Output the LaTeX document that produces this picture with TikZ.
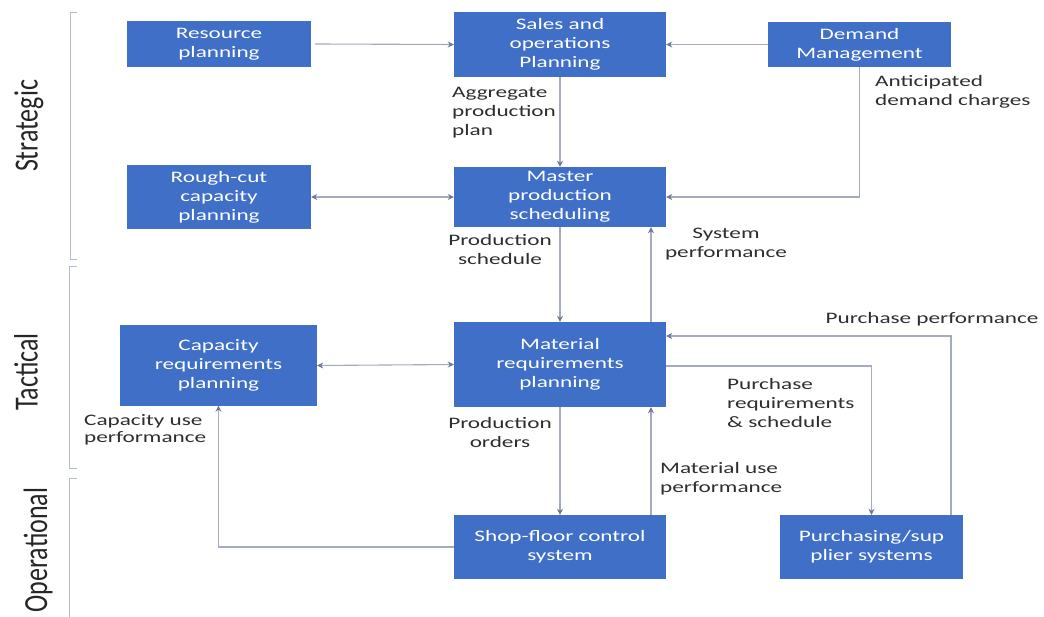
\documentclass[tikz,border=0pt]{standalone}
\usepackage{fontspec}
\setmainfont{Carlito}[FakeStretch=1.45]
\newfontfamily\sidefont{Carlito}
\usetikzlibrary{arrows.meta}
\definecolor{boxblue}{HTML}{3F6FC6}
\definecolor{linegray}{HTML}{A3ABBD}
\definecolor{tipgray}{HTML}{6B7A99}
\definecolor{labelgray}{HTML}{2E2E2E}
\definecolor{sidegray}{HTML}{262626}
\definecolor{brackgray}{HTML}{B3BCCC}
\tikzset{
  blk/.style={fill=boxblue, text=white, align=center, inner sep=2pt,
    font=\fontsize{16}{19}\selectfont},
  lbl/.style={text=labelgray, inner sep=0pt, font=\fontsize{16}{19}\selectfont},
  conn/.style={draw=linegray, line width=1.1pt, -{Stealth[length=6pt,width=6pt,color=tipgray]}},
  biconn/.style={draw=linegray, line width=1.1pt, {Stealth[length=6pt,width=6pt,color=tipgray]}-{Stealth[length=6pt,width=6pt,color=tipgray]}},
  brack/.style={draw=brackgray, line width=1pt},
  side/.style={text=sidegray, inner sep=0pt, font=\sidefont\fontsize{26}{28}\selectfont}
}
\begin{document}
\begin{tikzpicture}[x=1pt,y=-1pt]
\useasboundingbox (0,0) rectangle (1044,617);
% boxes
\node[blk, minimum width=184pt, minimum height=46pt] (res) at (219,44) {Resource\\planning};
\node[blk, minimum width=212pt, minimum height=65pt] (sop) at (560,44.5) {Sales and\\operations\\Planning};
\node[blk, minimum width=183pt, minimum height=45pt] (dem) at (859.5,44.5) {Demand\\Management};
\node[blk, minimum width=184pt, minimum height=64pt] (rc) at (219,197) {Rough-cut\\capacity\\planning};
\node[blk, minimum width=212pt, minimum height=60pt] (mps) at (560,197) {Master\\production\\scheduling};
\node[blk, minimum width=197pt, minimum height=80pt] (crp) at (218.5,365.5) {Capacity\\requirements\\planning};
\node[blk, minimum width=212pt, minimum height=85pt] (mrp) at (560,364.5) {Material\\requirements\\planning};
\node[blk, minimum width=212pt, minimum height=64pt] (sfc) at (560,547) {Shop-floor control\\system};
\node[blk, minimum width=183pt, minimum height=64pt] (pur) at (871.5,547) {Purchasing/sup\\plier systems};
% connectors
\draw[conn] ([xshift=4pt]res.east) -- (sop.west);
\draw[conn] (dem.west) -- (sop.east);
\draw[conn] (sop.south) -- (mps.north);
\draw[conn] (dem.south) |- (mps.east);
\draw[biconn] (rc.east) -- (mps.west);
\draw[conn] (mps.south) -- (mrp.north);
\draw[conn] ([xshift=91pt]mrp.north) -- ([xshift=91pt]mps.south);
\draw[biconn] (crp.east) -- (mrp.west);
\draw[conn] (mrp.south) -- (sfc.north);
\draw[conn] ([xshift=91pt]sfc.north) -- ([xshift=91pt]mrp.south);
\draw[conn] (sfc.west) -| (crp.south);
\draw[conn] ([yshift=-1.5pt]mrp.east) -| (pur.north);
\draw[conn] ([xshift=79.5pt]pur.north) |- ([yshift=28.5pt]mrp.east);
% labels
\node[lbl, anchor=west, align=left] (l1) at (452,113) {Aggregate\\production\\plan};
\node[lbl, anchor=west, align=left] (l2) at (875,91.5) {Anticipated\\demand charges};
\node[lbl, align=center] (l3) at (500,250) {Production\\schedule};
\node[lbl, align=center] (l4) at (726,244.5) {System\\performance};
\node[lbl] (l5) at (932,319) {Purchase performance};
\node[lbl, anchor=west, align=left] (l6) at (727,403) {Purchase\\requirements\\\& schedule};
\node[lbl, anchor=west, align=left] (l7) at (660,479) {Material use\\performance};
\node[lbl, align=center] (l8) at (500,432.5) {Production\\orders};
\node[lbl, anchor=west, align=left, font=\fontsize{16}{16.5}\selectfont] (l9) at (84,430) {Capacity use\\performance};
% side labels
\node[side] (s1) at (29,126) {\scalebox{1.3}[1]{\rotatebox{90}{Strategic}}};
\node[side] (s2) at (26,372) {\scalebox{1.3}[1]{\rotatebox{90}{Tactical}}};
\node[side] (s3) at (38,550) {\scalebox{1.3}[1]{\rotatebox{90}{Operational}}};
% brackets
\draw[brack] (77,13) -- (70,13) -- (70,260) -- (77,260);
\draw[brack] (77,267) -- (69,267) -- (69,468) -- (77,468);
\draw[brack] (77,478) -- (69,478) -- (69,617);
\end{tikzpicture}
\end{document}
